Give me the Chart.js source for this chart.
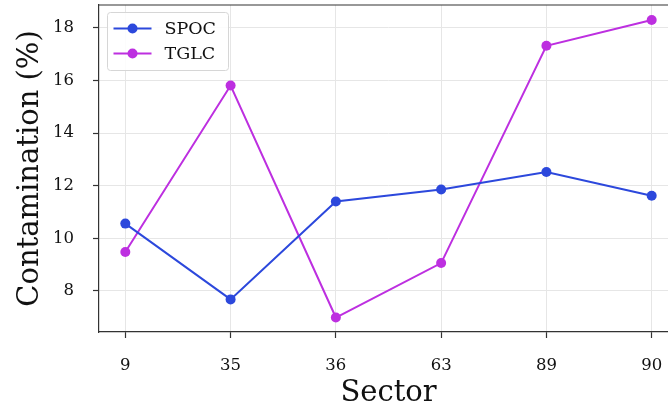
<!DOCTYPE html>
<html>
<head>
<meta charset="utf-8">
<script src="https://cdn.jsdelivr.net/npm/chart.js@4/dist/chart.umd.min.js"></script>
<style>
  html, body { margin: 0; padding: 0; background: #fff; overflow: hidden; }
  #wrap { width: 668px; height: 411px; position: relative; overflow: hidden; }
  #c { display: block; }
</style>
</head>
<body>
<div id="wrap"><canvas id="c" width="683" height="411"></canvas></div>
<script>
const sectors = ["9", "35", "36", "63", "89", "90"];
const spocValues = [10.56, 7.68, 11.40, 11.86, 12.52, 11.62];
const tglcValues = [9.48, 15.81, 6.99, 9.06, 17.32, 18.30];
const yTicks = [8, 10, 12, 14, 16, 18];

const SERIF = "'DejaVu Serif', serif";
const spocColor = '#2c48dc';
const tglcColor = '#bd2fe0';

const toPoints = vals => vals.map((v, i) => ({ x: i, y: v }));

const frameAndLegend = {
  id: 'frameAndLegend',
  afterDraw(chart) {
    const ctx = chart.ctx, a = chart.chartArea;
    ctx.save();
    ctx.strokeStyle = '#333';
    ctx.lineWidth = 1.2;
    ctx.beginPath();
    ctx.moveTo(a.left, a.top);
    ctx.lineTo(a.right, a.top);
    ctx.stroke();
    const bx = a.left + 8.5, by = a.top + 7.5, bw = 121, bh = 58;
    ctx.fillStyle = 'rgba(255,255,255,0.85)';
    ctx.strokeStyle = '#d6d6d6';
    ctx.lineWidth = 1;
    ctx.beginPath();
    ctx.roundRect(bx, by, bw, bh, 3);
    ctx.fill();
    ctx.stroke();
    chart.data.datasets.forEach((ds, i) => {
      const cy = by + 16 + i * 25;
      ctx.strokeStyle = ds.borderColor;
      ctx.lineWidth = 2;
      ctx.beginPath();
      ctx.moveTo(bx + 6, cy);
      ctx.lineTo(bx + 44, cy);
      ctx.stroke();
      ctx.fillStyle = ds.borderColor;
      ctx.beginPath();
      ctx.arc(bx + 25, cy, 5, 0, Math.PI * 2);
      ctx.fill();
      ctx.fillStyle = '#111';
      ctx.font = '17.5px ' + SERIF;
      ctx.textBaseline = 'middle';
      ctx.textAlign = 'left';
      ctx.fillText(ds.label, bx + 57, cy + 1);
    });
    ctx.restore();
  }
};

const zeroPad = s => { s.paddingTop = 0; s.paddingBottom = 0; s.paddingLeft = 0; s.paddingRight = 0; };

new Chart(document.getElementById('c'), {
  type: 'line',
  data: {
    datasets: [
      { label: 'SPOC', data: toPoints(spocValues), borderColor: spocColor, backgroundColor: spocColor,
        borderWidth: 2, pointRadius: 5, pointHoverRadius: 5, pointBorderWidth: 0, tension: 0 },
      { label: 'TGLC', data: toPoints(tglcValues), borderColor: tglcColor, backgroundColor: tglcColor,
        borderWidth: 2, pointRadius: 5, pointHoverRadius: 5, pointBorderWidth: 0, tension: 0 }
    ]
  },
  options: {
    responsive: false,
    animation: false,
    layout: { padding: { top: 4, left: 0, right: 0, bottom: 0 } },
    plugins: { legend: { display: false }, tooltip: { enabled: false } },
    scales: {
      x: {
        type: 'linear',
        min: -0.25, max: 5.25,
        afterBuildTicks: s => { s.ticks = sectors.map((_, i) => ({ value: i })); },
        afterFit: s => { s.height = 79; zeroPad(s); },
        ticks: {
          callback: (v) => sectors[v] ?? '',
          font: { family: SERIF, size: 16.5 }, color: '#111', padding: 18, maxRotation: 0, autoSkip: false
        },
        grid: { color: '#e6e6e6', lineWidth: 1, tickColor: '#333', tickLength: 6, tickWidth: 1.2 },
        border: { color: '#333', width: 1.2 },
        title: { display: true, text: 'Sector', font: { family: SERIF, size: 29 }, color: '#111', padding: { top: 0, bottom: 0 } }
      },
      y: {
        type: 'linear',
        min: 6.44, max: 18.87,
        afterBuildTicks: s => { s.ticks = yTicks.map(v => ({ value: v })); },
        afterFit: s => { s.width = 99; zeroPad(s); },
        ticks: { font: { family: SERIF, size: 16.5 }, color: '#111', padding: 19 },
        grid: { color: '#e6e6e6', lineWidth: 1, tickColor: '#333', tickLength: 6, tickWidth: 1.2 },
        border: { color: '#333', width: 1.2 },
        title: { display: true, text: 'Contamination (%)', font: { family: SERIF, size: 29 }, color: '#111', padding: { top: 13, bottom: 0 } }
      }
    }
  },
  plugins: [frameAndLegend]
});
</script>
</body>
</html>
